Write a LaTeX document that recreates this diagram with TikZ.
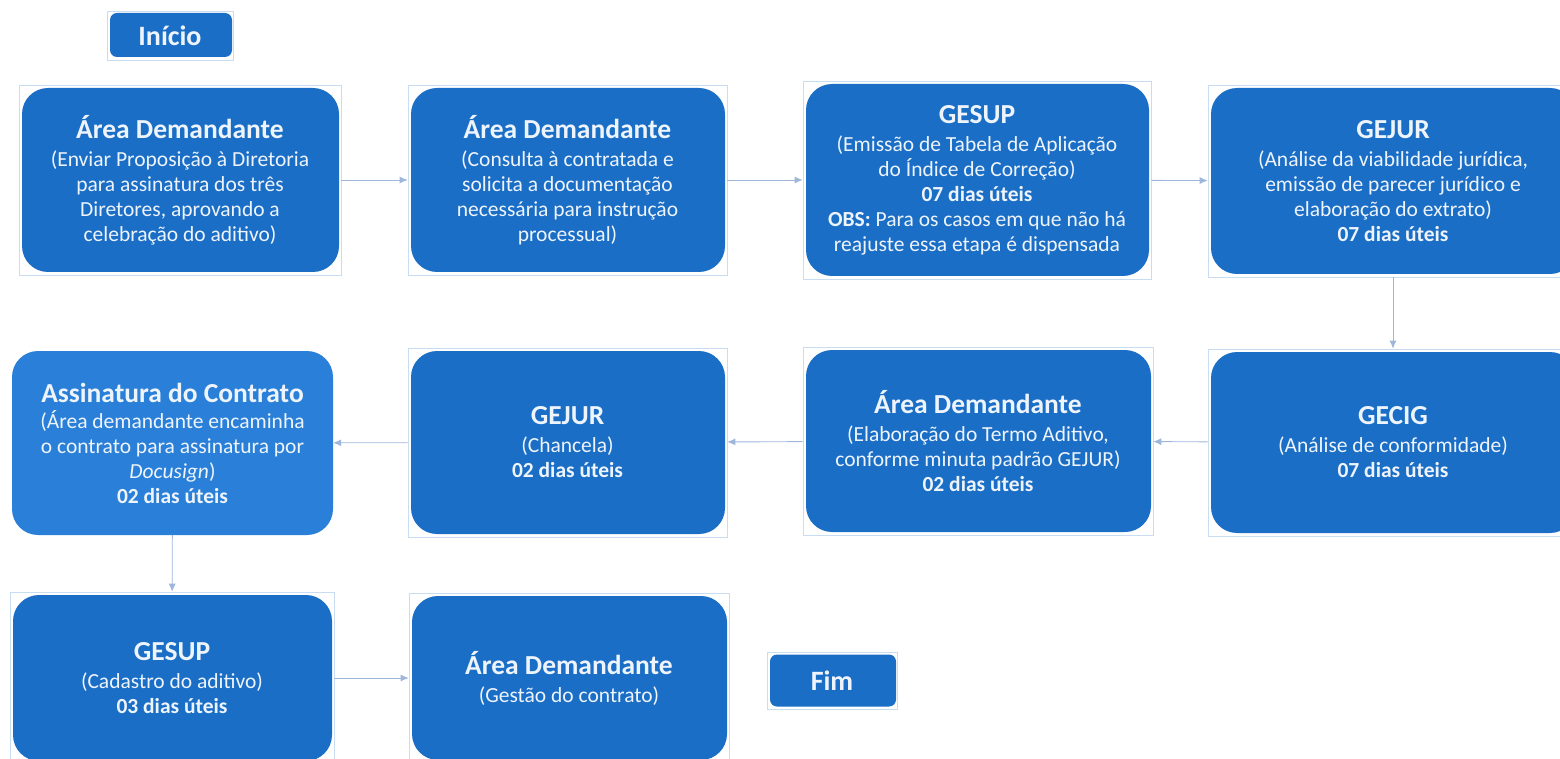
\documentclass[tikz,border=0pt]{standalone}
\usepackage{fontspec}
\setmainfont{Carlito}
\usepackage{tikz}
\usetikzlibrary{arrows.meta}
\definecolor{boxblue}{HTML}{1B6EC6}
\definecolor{softblue}{HTML}{2A80D8}
\definecolor{framecol}{HTML}{C8DCF2}
\definecolor{linkcol}{HTML}{9DB6DA}
\definecolor{txtcol}{HTML}{EEF4FB}
\newcommand{\ttl}[1]{{\fontsize{27.5}{30}\selectfont\bfseries #1}}
\newcommand{\prazo}[1]{\textbf{#1 dias úteis}}
\tikzstyle{task}=[rectangle, draw=framecol, line width=0.6pt, inner sep=0pt, align=center, text=txtcol, font=\fontsize{21.5}{25}\selectfont, path picture={\fill[boxblue, rounded corners=26pt] ([shift={(3pt,-3pt)}]path picture bounding box.north west) rectangle ([shift={(-2pt,3pt)}]path picture bounding box.south east);}]
\tikzstyle{softtask}=[rectangle, inner sep=0pt, align=center, text=txtcol, font=\fontsize{21.5}{25}\selectfont, fill=softblue, rounded corners=26pt]
\tikzstyle{terminal}=[rectangle, draw=framecol, line width=0.6pt, inner sep=0pt, text=txtcol, font=\fontsize{28}{30}\selectfont\bfseries, path picture={\fill[boxblue, rounded corners=7pt] ([shift={(3pt,-2pt)}]path picture bounding box.north west) rectangle ([shift={(-1pt,3pt)}]path picture bounding box.south east);}]
\tikzstyle{link}=[draw=linkcol, line width=0.9pt, -{Latex[length=8pt,width=7pt]}]

\begin{document}
\begin{tikzpicture}[x=1pt, y=-1pt]
	\useasboundingbox (0,0) rectangle (1560,759);
	\clip (0,0) rectangle (1560,759);

	%Start and end
	\draw (170,35.5) node[terminal, minimum width=126pt, minimum height=49pt] (ini) {Início};
	\draw (832,681) node[terminal, minimum width=130pt, minimum height=57pt] (fim) {Fim};

	%First row
	\draw (180,180) node[task, minimum width=322pt, minimum height=190pt] (dem1) {\ttl{Área Demandante}\\[3pt](Enviar Proposição à Diretoria\\para assinatura dos três\\Diretores, aprovando a\\celebração do aditivo)};
	\draw (567.5,180) node[task, minimum width=319pt, minimum height=190pt] (dem2) {\ttl{Área Demandante}\\[3pt](Consulta à contratada e\\solicita a documentação\\necessária para instrução\\processual)};
	\draw (977,180) node[task, minimum width=348pt, minimum height=198pt] (gesup1) {\ttl{GESUP}\\[3pt](Emissão de Tabela de Aplicação\\do Índice de Correção)\\\prazo{07}\\\textbf{OBS:} Para os casos em que não há\\reajuste essa etapa é dispensada};
	\draw (1393,181) node[task, minimum width=370pt, minimum height=192pt] (gejur1) {\ttl{GEJUR}\\[3pt](Análise da viabilidade jurídica,\\emissão de parecer jurídico e\\elaboração do extrato)\\\prazo{07}};

	%Second row
	\draw (1393,442.5) node[task, minimum width=370pt, minimum height=187pt] (gecig) {\ttl{GECIG}\\[3pt](Análise de conformidade)\\\prazo{07}};
	\draw (978,441) node[task, minimum width=350pt, minimum height=188pt] (dem3) {\ttl{Área Demandante}\\[3pt](Elaboração do Termo Aditivo,\\conforme minuta padrão GEJUR)\\\prazo{02}};
	\draw (567.5,442.5) node[task, minimum width=319pt, minimum height=189pt] (gejur2) {\ttl{GEJUR}\\[3pt](Chancela)\\\prazo{02}};
	\draw (172.5,443) node[softtask, minimum width=321pt, minimum height=184pt] (assin) {\ttl{Assinatura do Contrato}\\[1pt](Área demandante encaminha\\o contrato para assinatura por\\\textit{Docusign})\\\prazo{02}};

	%Third row
	\draw (172,678) node[task, minimum width=324pt, minimum height=172pt] (gesup2) {\ttl{GESUP}\\[3pt](Cadastro do aditivo)\\\prazo{03}};
	\draw (569,678) node[task, minimum width=320pt, minimum height=170pt] (dem4) {\ttl{Área Demandante}\\[3pt](Gestão do contrato)};

	\draw[link] (dem1) -- (dem2);
	\draw[link] (dem2) -- (gesup1);
	\draw[link] (gesup1) -- (gejur1);
	\draw[link] (gejur1) -- (gecig);
	\draw[link] (gecig) -- (dem3);
	\draw[link] (dem3) -- (gejur2);
	\draw[link] (gejur2) -- (assin);
	\draw[link] (assin) -- (gesup2);
	\draw[link] (gesup2) -- (dem4);
\end{tikzpicture}
\end{document}
